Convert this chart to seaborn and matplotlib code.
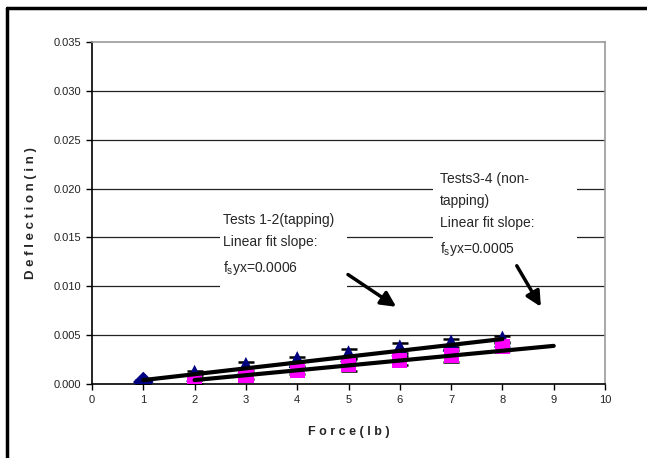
import matplotlib

matplotlib.use("Agg")
import matplotlib.pyplot as plt
import numpy as np
import pandas as pd
import seaborn as sns
from matplotlib.patches import Rectangle

# Tests 1-2 (tapping)
force_tap = [1, 2, 3, 4, 5, 6, 7, 8]
defl_tap = [0.0002, 0.0011, 0.0019, 0.0025, 0.0031, 0.0037, 0.0042, 0.0046]
err_tap = [0.0002, 0.0002, 0.0003, 0.0003, 0.0005, 0.0005, 0.0004, 0.0003]

# Tests 3-4 (non-tapping)
force_non = [2, 3, 4, 5, 6, 7, 8]
defl_non = [0.0003, 0.0009, 0.0014, 0.0020, 0.0024, 0.0029, 0.0038]
err_non = [0.0003, 0.0004, 0.0004, 0.0007, 0.0005, 0.0006, 0.0004]

# linear fit lines (slope, intercept, x range)
fit_tap = (0.0006, -0.0002, [1, 8])
fit_non = (0.0005, -0.0006, [2, 9])

y_ticks = [0.000, 0.005, 0.010, 0.015, 0.020, 0.025, 0.030, 0.035]
x_ticks = list(range(0, 11))

sns.set_style("white")
plt.rcParams["font.family"] = ["Liberation Sans", "DejaVu Sans"]
plt.rcParams["mathtext.fontset"] = "custom"
plt.rcParams["mathtext.rm"] = "Liberation Sans"

fig = plt.figure(figsize=(6.47, 4.58), dpi=100)
ax = fig.add_axes([0.1422, 0.1616, 0.7929, 0.7467])

# outer frame (left and top only)
fig.add_artist(plt.Line2D([0.011, 0.011], [0, 0.983], color="black", lw=2.5,
                          transform=fig.transFigure))
fig.add_artist(plt.Line2D([0.011, 1.0], [0.983, 0.983], color="black", lw=2.5,
                          transform=fig.transFigure))

for y in y_ticks[1:-1]:
    ax.axhline(y, color="#222222", lw=0.9, zorder=0)

df_tap = pd.DataFrame({"Force": force_tap, "Deflection": defl_tap})
df_non = pd.DataFrame({"Force": force_non, "Deflection": defl_non})

ax.errorbar(force_tap, defl_tap, yerr=err_tap, fmt="none", ecolor="black",
            elinewidth=1.5, capsize=5.5, capthick=1.8, zorder=2)
ax.errorbar(force_non, defl_non, yerr=err_non, fmt="none", ecolor="black",
            elinewidth=1.5, capsize=5.5, capthick=1.8, zorder=2)

sns.scatterplot(data=df_tap.iloc[:1], x="Force", y="Deflection", marker="D",
                color="#000080", s=110, edgecolor="none", ax=ax, zorder=3)
sns.scatterplot(data=df_tap.iloc[1:], x="Force", y="Deflection", marker="^",
                color="#000080", s=150, edgecolor="none", ax=ax, zorder=3)
sns.scatterplot(data=df_non, x="Force", y="Deflection", marker="s",
                color="#FF00FF", s=120, edgecolor="none", ax=ax, zorder=3.5)

for slope, icpt, xr in (fit_tap, fit_non):
    xs = np.array(xr, dtype=float)
    sns.lineplot(x=xs, y=slope * xs + icpt, color="black", lw=3, ax=ax,
                 zorder=5)

ax.set_xlim(0, 10)
ax.set_ylim(0, 0.035)
ax.set_xticks(x_ticks)
ax.set_yticks(y_ticks)
ax.set_yticklabels([f"{v:.3f}" for v in y_ticks])
ax.tick_params(axis="both", direction="out", length=4, width=1, color="black",
               labelsize=8, pad=4, left=True, bottom=True, labelcolor="#222222")

for side in ("left", "bottom"):
    ax.spines[side].set_color("black")
    ax.spines[side].set_linewidth(1.2)
for side in ("top", "right"):
    ax.spines[side].set_color("#999999")
    ax.spines[side].set_linewidth(1.2)

ax.set_xlabel("F o r c e ( l b )", fontsize=9, fontweight="bold", labelpad=15)
ax.set_ylabel("D e f l e c t i o n ( i n )", fontsize=9.5, fontweight="bold",
              labelpad=12)

# white text boxes hiding the gridlines
ax.add_patch(Rectangle((2.50, 0.0095), 2.47, 0.0095, facecolor="white",
                       edgecolor="none", zorder=1))
ax.add_patch(Rectangle((6.65, 0.0130), 2.80, 0.0105, facecolor="white",
                       edgecolor="none", zorder=1))
ax.text(2.55, 0.0175, "Tests 1-2(tapping)\nLinear fit slope:\nf$_{\\mathrm{s}}$yx=0.0006",
        fontsize=10, va="top", ha="left", linespacing=1.75, zorder=6)
ax.text(6.78, 0.0217, "Tests3-4 (non-\ntapping)\nLinear fit slope:\nf$_{\\mathrm{s}}$yx=0.0005",
        fontsize=10, va="top", ha="left", linespacing=1.75, zorder=6)

arrow = dict(arrowstyle="-|>,head_length=0.9,head_width=0.45", color="black",
             lw=2.5, shrinkA=0, shrinkB=0)
ax.annotate("", xy=(5.93, 0.0079), xytext=(4.99, 0.0112), arrowprops=arrow)
ax.annotate("", xy=(8.75, 0.0079), xytext=(8.28, 0.0121), arrowprops=arrow)

fig.savefig("out.png", dpi=100)
